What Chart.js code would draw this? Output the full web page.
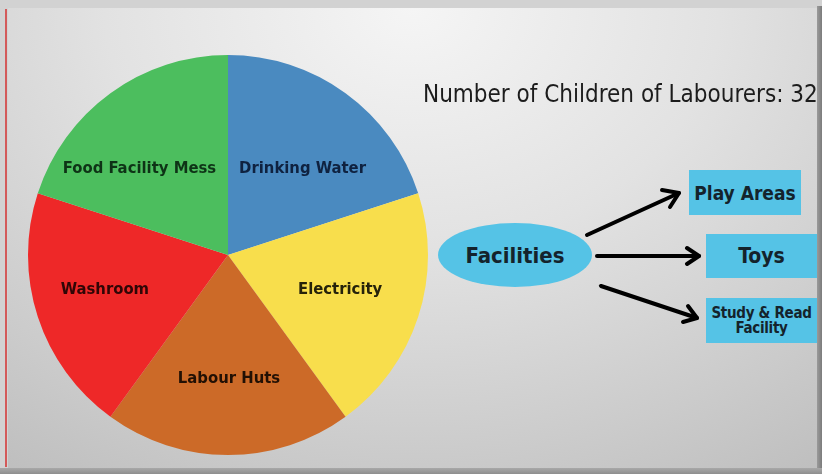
<!DOCTYPE html>
<html>
<head>
<meta charset="utf-8">
<script src="https://cdn.jsdelivr.net/npm/chart.js@4.4.1/dist/chart.umd.min.js"></script>
<style>
  html, body { margin: 0; padding: 0; }
  body { width: 822px; height: 474px; position: relative; overflow: hidden; background: #d2d2d2; }
  #panel {
    position: absolute; left: 8px; top: 8px; width: 809px; height: 460px;
    background: radial-gradient(ellipse 95% 130% at 50% 0%, #f5f5f5 0%, #e2e2e2 40%, #cbcbcb 75%, #bababa 100%);
  }
  #edgeR { position: absolute; left: 817px; top: 6px; width: 5px; height: 468px; background: linear-gradient(to right, #9a9a9a, #7c7c7c); }
  #edgeB { position: absolute; left: 0; top: 468px; width: 822px; height: 6px; background: linear-gradient(to bottom, #a8a8a8, #8e8e8e); }
  #redLine { position: absolute; left: 5px; top: 9px; width: 2px; height: 458px; background: #d35a5a; }
  canvas { position: absolute; left: 0; top: 0; }
  .txt { position: absolute; font-family: "DejaVu Sans Condensed", "DejaVu Sans", sans-serif; color: #1a1a1a; white-space: nowrap; }
  #title { left: 423px; top: 80px; font-size: 24px; color: #1c1c1c; }
  #facilities {
    position: absolute; left: 438px; top: 223px; width: 154px; height: 64px; border-radius: 50%;
    background: #55c3e6; display: flex; align-items: center; justify-content: center;
    font-family: "DejaVu Sans Condensed", sans-serif; font-weight: bold; font-size: 22px; color: #14232c;
  }
  .box {
    position: absolute; background: #55c3e6; display: flex; align-items: center; justify-content: center;
    text-align: center; font-family: "DejaVu Sans Condensed", sans-serif; font-weight: bold; color: #14232c;
    white-space: nowrap;
  }
  svg { position: absolute; left: 0; top: 0; }
</style>
</head>
<body>
<div id="panel"></div>
<div id="redLine"></div>
<canvas id="pieChart" width="822" height="474"></canvas>
<div class="txt" id="title">Number of Children of Labourers: 32</div>
<div id="facilities">Facilities</div>
<div class="box" style="left:689px;top:170px;width:112px;height:45px;font-size:19px;">Play Areas</div>
<div class="box" style="left:706px;top:234px;width:111px;height:44px;font-size:21px;">Toys</div>
<div class="box" style="left:706px;top:298px;width:111px;height:45px;font-size:15px;line-height:15px;letter-spacing:-0.3px;">Study &amp; Read<br>Facility</div>
<svg width="822" height="474">
  <g stroke="#000" stroke-width="4" fill="none" stroke-linecap="round" stroke-linejoin="round">
    <line x1="587" y1="235" x2="679" y2="193"/>
    <polyline points="662,190 679,193 670,207"/>
    <line x1="597" y1="256" x2="699" y2="256"/>
    <polyline points="687,248 699,256 687,264"/>
    <line x1="601" y1="286" x2="697" y2="318"/>
    <polyline points="688,306 697,318 683,322"/>
  </g>
</svg>
<div id="edgeR"></div>
<div id="edgeB"></div>
<script>
// datos del grafico
var categorias = ['Drinking Water', 'Electricity', 'Labour Huts', 'Washroom', 'Food Facility Mess'];
var valores = [20, 20, 20, 20, 20];
var colores = ['#4a8ac0', '#f8de4c', '#cc6a28', '#ee2828', '#4cbe5e'];
var coloresTexto = ['#0f2240', '#25220a', '#221004', '#300606', '#0e3316'];

// pequeños ajustes de posicion de las etiquetas
var ajusteEtiquetas = [[4, 11], [-2, -2], [1, 4], [-9, -2], [-18, 11]];

var etiquetasPlugin = {
    id: 'etiquetas',
    afterDatasetsDraw: function (chart) {
        var ctx = chart.ctx;
        var meta = chart.getDatasetMeta(0);
        ctx.save();
        ctx.font = 'bold 16.5px "DejaVu Sans Condensed", sans-serif';
        ctx.textAlign = 'center';
        ctx.textBaseline = 'middle';
        meta.data.forEach(function (arc, i) {
            var p = arc.getProps(['x', 'y', 'startAngle', 'endAngle', 'outerRadius'], true);
            var medio = (p.startAngle + p.endAngle) / 2;
            var r = p.outerRadius * 0.6;
            var x = p.x + Math.cos(medio) * r + ajusteEtiquetas[i][0];
            var y = p.y + Math.sin(medio) * r + ajusteEtiquetas[i][1];
            ctx.fillStyle = coloresTexto[i];
            ctx.fillText(categorias[i], x, y);
        });
        ctx.restore();
    }
};

var graficoTarta = new Chart(document.getElementById('pieChart').getContext('2d'), {
    type: 'pie',
    data: {
        labels: categorias,
        datasets: [{
            data: valores,
            backgroundColor: colores,
            borderWidth: 0
        }]
    },
    options: {
        responsive: false,
        animation: false,
        layout: { padding: { left: 28, top: 55, right: 394, bottom: 19 } },
        plugins: {
            legend: { display: false },
            tooltip: { enabled: false }
        }
    },
    plugins: [etiquetasPlugin]
});
</script>
</body>
</html>
